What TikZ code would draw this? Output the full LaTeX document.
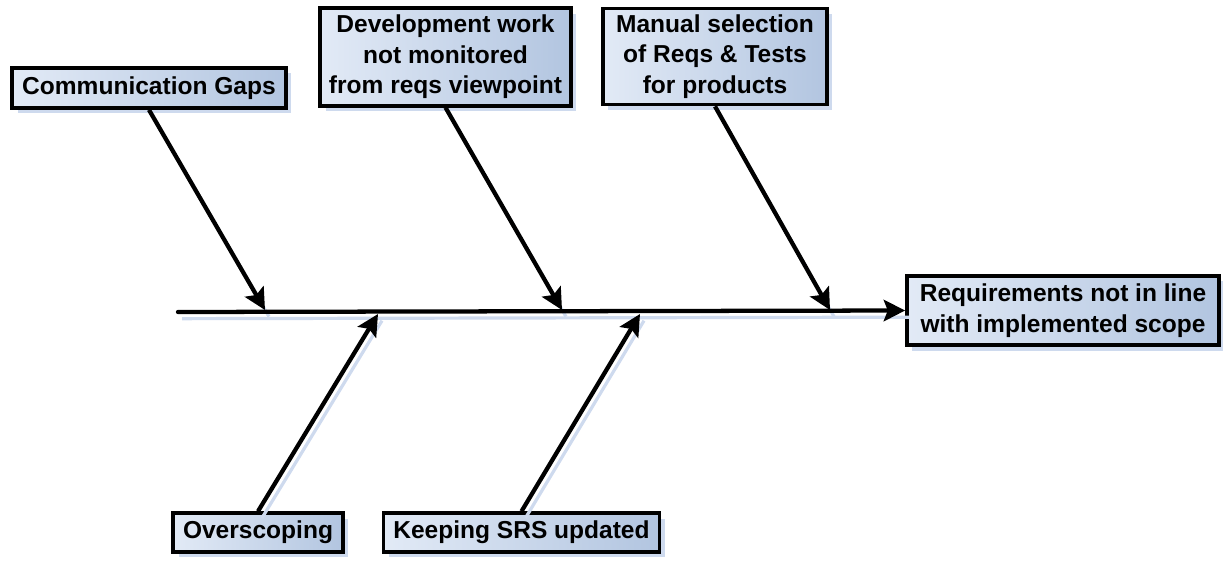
\documentclass[tikz,border=0pt]{standalone}
\usepackage{fontspec}
\setmainfont{Liberation Sans}
\usetikzlibrary{arrows.meta,shadows}

\definecolor{boxleft}{RGB}{226,234,246}
\definecolor{boxright}{RGB}{178,197,224}
\definecolor{shadowblue}{RGB}{206,218,238}

\begin{document}
\begin{tikzpicture}[
  x=0.75pt, y=0.75pt,
  every node/.style={font=\fontsize{18.4}{22.9}\selectfont\bfseries, align=center},
  cause/.style={draw, line width=2.8pt, inner sep=2pt, left color=boxleft, right color=boxright,
    drop shadow={fill=shadowblue, opacity=1, shadow xshift=4pt, shadow yshift=-4pt}},
  boneshadow/.style={draw=shadowblue, line width=2.4pt, transform canvas={xshift=3pt,yshift=-5pt}},
  bone/.style={line width=3.2pt, arrows={-Stealth[length=16pt,width=16pt,inset=3pt]}},
  >=Stealth
]
\useasboundingbox (0,0) rectangle (1223,-560);

% cause boxes
\node[cause, minimum width=205pt, minimum height=30pt] (gaps) at (149,-88) {Communication Gaps};
\node[cause, minimum width=188pt, minimum height=73pt] (dev) at (445.5,-57) {Development work\\not monitored\\from reqs viewpoint};
\node[cause, minimum width=168pt, minimum height=72pt] (sel) at (715,-56.5) {Manual selection\\of Reqs \& Tests\\for products};
\node[cause, minimum width=127pt, minimum height=29pt] (over) at (258,-532.5) {Overscoping};
\node[cause, minimum width=207pt, minimum height=29pt] (srs) at (521.5,-532.5) {Keeping SRS updated};

% effect
\node[cause, minimum width=234pt, minimum height=52pt] (req) at (1063,-310.5) {Requirements not in line\\with implemented scope};

% spine
\coordinate (tail) at (178,-312);
\coordinate (p1) at (265,-310);
\coordinate (p2) at (562,-310);
\coordinate (p3) at (830,-310);
\coordinate (q1) at (378,-314);
\coordinate (q2) at (640,-314);

% shadows of the bones
\foreach \a/\b in {tail/req.west, gaps.south/p1, dev.south/p2, sel.south/p3, over.north/q1, srs.north/q2}
  \draw[boneshadow] (\a) -- (\b);

\draw[bone, line cap=round] (tail) -- (req.west);

\draw[bone] (gaps.south) -- (p1);
\draw[bone] (dev.south) -- (p2);
\draw[bone] (sel.south) -- (p3);
\draw[bone] (over.north) -- (q1);
\draw[bone] (srs.north) -- (q2);
\end{tikzpicture}
\end{document}
